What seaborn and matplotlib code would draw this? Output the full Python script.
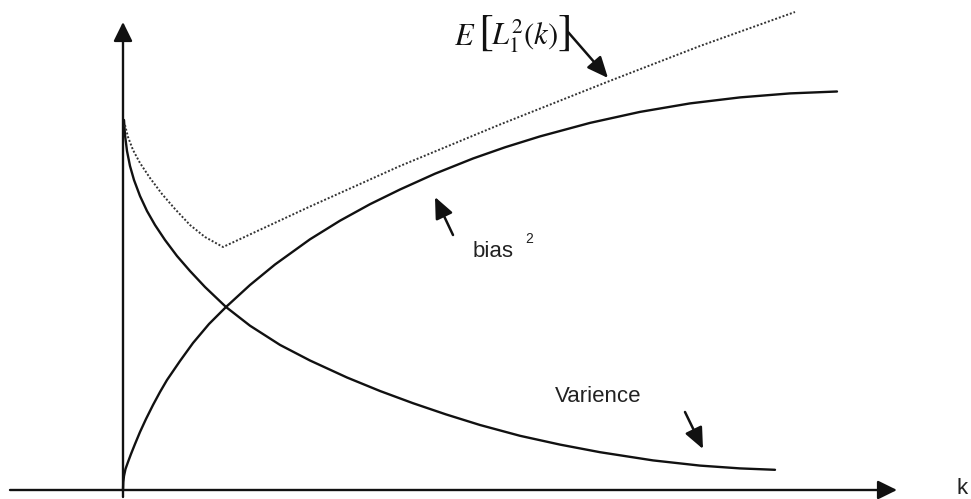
import matplotlib
matplotlib.use("Agg")
import matplotlib.pyplot as plt
import seaborn as sns
import pandas as pd

# ---- data (arbitrary units) ----
k_bias = [0.0, 0.03, 0.1, 0.25, 0.5, 0.8, 1.2, 1.7, 2.3, 3.0, 3.7, 4.4, 5.7, 7.0, 8.6,
          10.3, 12.7, 15.2, 18.7, 21.7, 24.7, 27.7, 31.2, 35.0, 38.2, 41.7, 46.7, 51.7,
          56.7, 61.7, 66.7, 71.4]
bias2 = [0.0, 0.8, 1.4, 2.1, 2.8, 3.6, 4.6, 5.8, 7.1, 8.5, 9.8, 11.0, 12.9, 14.7, 16.6,
         18.3, 20.5, 22.55, 25.07, 26.93, 28.58, 30.05, 31.63, 33.15, 34.27, 35.36, 36.71,
         37.81, 38.66, 39.26, 39.66, 39.85]

k_var = [0.1, 0.2, 0.4, 0.7, 1.1, 1.7, 2.4, 3.2, 4.2, 5.4, 6.7, 8.2, 10.3, 12.7, 15.7,
         18.7, 22.4, 25.7, 29.0, 32.3, 35.7, 39.7, 43.7, 47.7, 53.0, 57.7, 61.7, 65.2]
variance = [37.0, 35.5, 33.9, 32.4, 31.0, 29.4, 27.9, 26.5, 25.0, 23.4, 21.9, 20.3, 18.3,
            16.43, 14.51, 12.95, 11.25, 9.9, 8.68, 7.56, 6.5, 5.42, 4.54, 3.78, 2.96,
            2.44, 2.16, 2.02]

k_loss = [0.2, 0.5, 1.0, 1.7, 2.7, 3.9, 5.2, 6.7, 8.2, 10.0, 18.7, 27.7, 37.7, 48.4, 57.7, 67.2]
expected_loss = [36.5, 35.3, 34.0, 32.7, 31.2, 29.6, 28.1, 26.5, 25.3, 24.3, 28.35, 32.4,
                 36.55, 40.8, 44.4, 47.8]

label_loss_E = r"$E$"
label_loss_open = "["
label_loss_body = r"$L_1^2(k)$"
label_loss_close = "]"
label_bias = "bias"
label_bias_sup = "2"
label_var = "Varience"
label_k = "k"

# ---- style ----
sns.set_theme(style="white")
plt.rcParams["font.family"] = ["Liberation Sans", "DejaVu Sans"]
plt.rcParams["mathtext.fontset"] = "stix"

fig = plt.figure(figsize=(9.71, 4.99), dpi=100)
ax = fig.add_axes([0, 0, 1, 1])

df_b = pd.DataFrame({"k": k_bias, "v": bias2})
df_v = pd.DataFrame({"k": k_var, "v": variance})
df_l = pd.DataFrame({"k": k_loss, "v": expected_loss})

sns.lineplot(data=df_b, x="k", y="v", ax=ax, color="#111111", lw=1.7,
             sort=False, estimator=None)
sns.lineplot(data=df_v, x="k", y="v", ax=ax, color="#111111", lw=1.7,
             sort=False, estimator=None)
sns.lineplot(data=df_l, x="k", y="v", ax=ax, color="#333333", lw=1.4,
             linestyle=(0, (1, 1)), sort=False, estimator=None)

ax.set_xlim(-12.3, 84.8)
ax.set_ylim(-0.9, 49.0)
ax.axis("off")

# axes with arrow heads
axis_style = dict(arrowstyle="-|>,head_length=0.65,head_width=0.32",
                  mutation_scale=18, lw=1.7, color="#111111",
                  shrinkA=0, shrinkB=0)
ax.annotate("", xy=(77.4, 0), xytext=(-11.3, 0), arrowprops=axis_style)
ax.annotate("", xy=(0, 46.8), xytext=(0, -0.7), arrowprops=axis_style)
ax.text(83.9, 0.15, label_k, fontsize=16, ha="center", va="center", color="#222222")

# pointer arrows
ptr_style = dict(arrowstyle="-|>,head_length=0.8,head_width=0.35",
                 mutation_scale=16, lw=1.8, color="#111111",
                 shrinkA=0, shrinkB=0)
ax.annotate("", xy=(48.5, 41.2), xytext=(44.5, 45.8), arrowprops=ptr_style)
ax.annotate("", xy=(31.2, 29.3), xytext=(33.0, 25.5), arrowprops=ptr_style)
ax.annotate("", xy=(58.0, 4.1), xytext=(56.2, 7.8), arrowprops=ptr_style)

# E[L_1^2(k)] label, composed with tall brackets
ax.text(33.1, 44.5, label_loss_E, fontsize=22, ha="left", va="baseline", color="#111111")
ax.text(35.5, 45.65, label_loss_open, fontsize=32, ha="left", va="center",
        family=["STIXGeneral"], color="#111111")
ax.text(36.8, 44.5, label_loss_body, fontsize=22, ha="left", va="baseline", color="#111111")
ax.text(43.4, 45.65, label_loss_close, fontsize=32, ha="left", va="center",
        family=["STIXGeneral"], color="#111111")

ax.text(35.0, 23.3, label_bias, fontsize=16, ha="left", va="baseline", color="#222222")
ax.text(40.2, 24.7, label_bias_sup, fontsize=10, ha="left", va="baseline", color="#222222")
ax.text(43.2, 9.4, label_var, fontsize=16, ha="left", va="center", color="#222222")

fig.savefig("out.png", dpi=100)
